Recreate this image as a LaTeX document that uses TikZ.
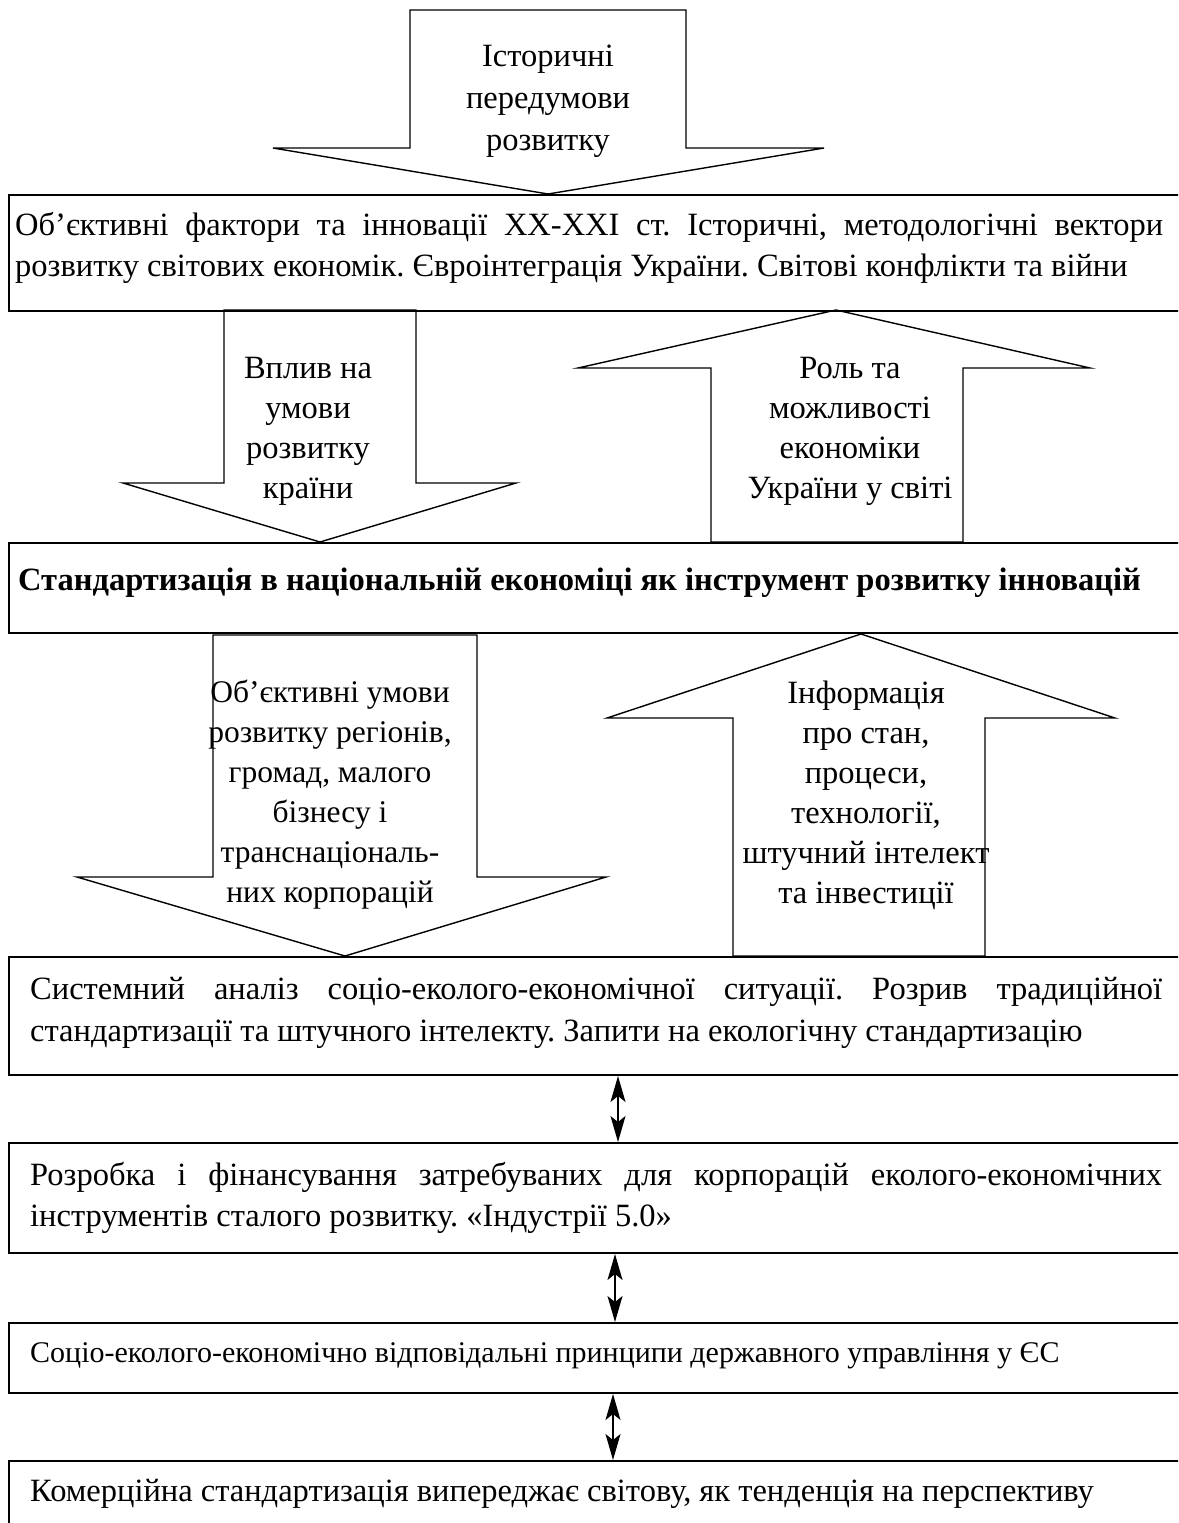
\documentclass[tikz,border=0pt]{standalone}
\usepackage{fontspec}
\setmainfont{Liberation Serif}
\usetikzlibrary{arrows.meta}
\frenchspacing
\begin{document}
\begin{tikzpicture}[x=1pt,y=-1pt,
  frame/.style={draw, line width=2pt, anchor=north west, inner sep=0pt, minimum width=1200pt},
  bigarrow/.style={draw, line width=1.4pt, line join=miter},
  atext/.style={align=center, inner sep=0pt, font=\fontsize{32.5}{40}\selectfont},
  btext/.style={anchor=west, inner sep=0pt, align=justify, font=\fontsize{32.5}{41.5}\selectfont},
  ltext/.style={anchor=west, inner sep=0pt, font=\fontsize{32.5}{41.5}\selectfont},
  link/.style={{Stealth[length=26pt,width=15pt,inset=6pt]}-{Stealth[length=26pt,width=15pt,inset=6pt]}, line width=1.4pt}
]
\clip (0,0) rectangle (1178,1523);
\fill[white] (0,0) rectangle (1178,1523);

% boxes
\node[frame, minimum height=116pt] (b1) at (8,194) {};
\node[frame, minimum height=90pt] (b2) at (8,542) {};
\node[frame, minimum height=118pt] (b3) at (8,956) {};
\node[frame, minimum height=110pt] (b4) at (8,1142) {};
\node[frame, minimum height=70pt] (b5) at (8,1322) {};
\node[frame, minimum height=100pt] (b6) at (8,1460) {};

% block arrows
\draw[bigarrow] (410,10) -- (686,10) -- (686,148) -- (824,148) -- (548,194) -- (273,148) -- (410,148) -- cycle;
\draw[bigarrow] (224,310) -- (416,310) -- (416,483) -- (516,483) -- (320,542) -- (123,483) -- (224,483) -- cycle;
\draw[bigarrow] (836,310) -- (1090,368) -- (963,368) -- (963,542) -- (711,542) -- (711,368) -- (578,368) -- cycle;
\draw[bigarrow] (213,635) -- (477,635) -- (477,877) -- (606,877) -- (345,956) -- (77,877) -- (213,877) -- cycle;
\draw[bigarrow] (861,634) -- (1115,718) -- (985,718) -- (985,956) -- (733,956) -- (733,718) -- (607,718) -- cycle;

% arrow texts
\node[atext, font=\fontsize{32.5}{42}\selectfont] (t1) at (548,101) {Історичні\\передумови\\розвитку};
\node[atext] (t2) at (308,431) {Вплив на\\умови\\розвитку\\країни};
\node[atext] (t3) at (850,431) {Роль та\\можливості\\економіки\\України у світі};
\node[atext, font=\fontsize{31.5}{40}\selectfont] (t4) at (330,795) {Об’єктивні умови\\розвитку регіонів,\\громад, малого\\бізнесу і\\транснаціональ-\\них корпорацій};
\node[atext] (t5) at (866,795) {Інформація\\про стан,\\процеси,\\технології,\\штучний інтелект\\та інвестиції};

% box texts
\node[btext, text width=1148pt] (x1) at (15,248) {Об’єктивні фактори та інновації XX-XXI ст. Історичні, методологічні вектори\linebreak розвитку світових економік. Євроінтеграція України. Світові конфлікти та війни};
\node[ltext, font=\fontsize{32.5}{41.5}\selectfont\bfseries] (x2) at (18,583) {Стандартизація в національній економіці як інструмент розвитку інновацій};
\node[btext, text width=1132pt] (x3) at (30,1013) {Системний аналіз соціо-еколого-економічної ситуації. Розрив традиційної\linebreak стандартизації та штучного інтелекту. Запити на екологічну стандартизацію};
\node[btext, text width=1132pt] (x4) at (30,1198) {Розробка і фінансування затребуваних для корпорацій еколого-економічних\linebreak інструментів сталого розвитку. «Індустрії 5.0»};
\node[ltext, font=\fontsize{30}{38}\selectfont] (x5) at (30,1356) {Соціо-еколого-економічно відповідальні принципи державного управління у ЄС};
\node[ltext] (x6) at (30,1494) {Комерційна стандартизація випереджає світову, як тенденція на перспективу};

% connectors
\coordinate (c1) at (618,0);
\coordinate (c2) at (615,0);
\coordinate (c3) at (613,0);
\draw[link] (b3.south -| c1) -- (b4.north -| c1);
\draw[link] (b4.south -| c2) -- (b5.north -| c2);
\draw[link] (b5.south -| c3) -- (b6.north -| c3);
\end{tikzpicture}
\end{document}
